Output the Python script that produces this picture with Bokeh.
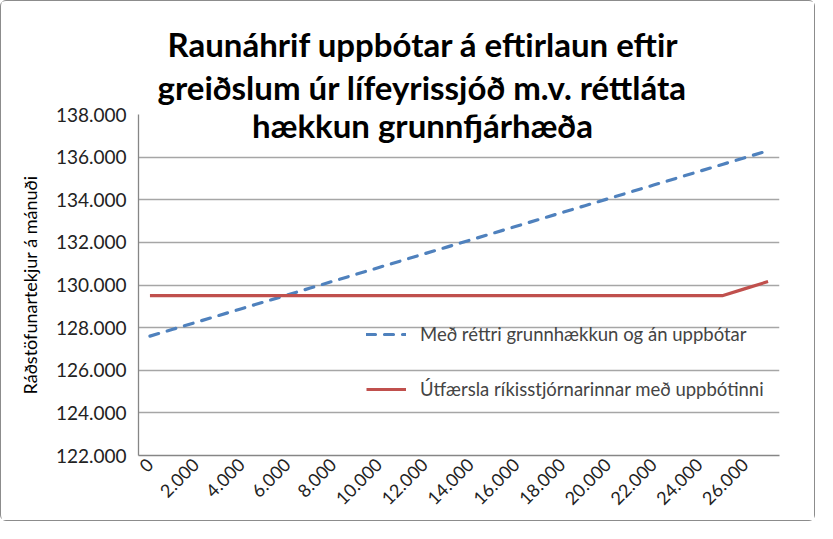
from bokeh.plotting import figure
from bokeh.models import FixedTicker, Label, Legend, LegendItem, Range1d, Title
from bokeh.embed import file_html
from bokeh.resources import INLINE

title_lines = ["Raunáhrif uppbótar á eftirlaun eftir",
               "greiðslum úr lífeyrissjóð m.v. réttláta",
               "hækkun grunnfjárhæða"]
y_axis_label = "Ráðstöfunartekjur á mánuði"
series_names = ["Með réttri grunnhækkun og án uppbótar",
                "Útfærsla ríkisstjórnarinnar með uppbótinni"]

x_values = [0, 1000, 2000, 3000, 4000, 5000, 6000, 7000, 8000, 9000,
            10000, 11000, 12000, 13000, 14000, 15000, 16000, 17000, 18000, 19000,
            20000, 21000, 22000, 23000, 24000, 25000, 26000, 27000]
blue_values = [127600, 127922, 128244, 128567, 128889, 129211, 129533, 129856, 130178, 130500,
               130822, 131144, 131467, 131789, 132111, 132433, 132756, 133078, 133400, 133722,
               134044, 134367, 134689, 135011, 135333, 135656, 135978, 136300]
red_values = [129500, 129500, 129500, 129500, 129500, 129500, 129500, 129500, 129500, 129500,
              129500, 129500, 129500, 129500, 129500, 129500, 129500, 129500, 129500, 129500,
              129500, 129500, 129500, 129500, 129500, 129500, 129830, 130160]

x_ticks = [0, 2000, 4000, 6000, 8000, 10000, 12000, 14000, 16000, 18000, 20000, 22000, 24000, 26000]
x_tick_labels = ["0", "2.000", "4.000", "6.000", "8.000", "10.000", "12.000", "14.000",
                 "16.000", "18.000", "20.000", "22.000", "24.000", "26.000"]
y_ticks = [122000, 124000, 126000, 128000, 130000, 132000, 134000, 136000, 138000]
y_tick_labels = ["122.000", "124.000", "126.000", "128.000", "130.000", "132.000",
                 "134.000", "136.000", "138.000"]

FONT = "Lato"
GRID = "#a6a6a6"
AXIS = "#868686"

p = figure(width=815, height=521, output_backend="svg", toolbar_location=None,
           x_range=Range1d(-500, 27500), y_range=Range1d(122000, 138000),
           min_border_left=137, min_border_right=37, min_border_top=113, min_border_bottom=67,
           styles={"border": "1px solid #8c8c8c", "border-radius": "6px"})
p.outline_line_color = None
p.background_fill_color = "white"
p.border_fill_color = "white"

p.xgrid.grid_line_color = None
p.ygrid.grid_line_color = GRID
p.ygrid.grid_line_width = 1.3
p.ygrid.ticker = FixedTicker(ticks=y_ticks)

p.xaxis.ticker = FixedTicker(ticks=x_ticks)
p.xaxis.major_label_overrides = dict(zip(x_ticks, x_tick_labels))
p.xaxis.major_label_orientation = 0.785398
p.yaxis.ticker = FixedTicker(ticks=y_ticks)
p.yaxis.major_label_overrides = dict(zip(y_ticks, y_tick_labels))

for ax in (p.xaxis, p.yaxis):
    ax.axis_line_color = AXIS
    ax.axis_line_width = 1.3
    ax.major_tick_line_color = None
    ax.minor_tick_line_color = None
    ax.major_tick_out = 0
    ax.major_tick_in = 0
    ax.major_label_text_font = FONT
    ax.major_label_text_color = "#222222"
p.yaxis.major_label_text_font_size = "19px"
p.xaxis.major_label_text_font_size = "18px"
p.yaxis.major_label_standoff = 12
p.xaxis.major_label_standoff = 6

p.yaxis.axis_label = y_axis_label
p.yaxis.axis_label_text_font = FONT
p.yaxis.axis_label_text_font_size = "18px"
p.yaxis.axis_label_text_font_style = "normal"
p.yaxis.axis_label_text_color = "#000000"
p.yaxis.axis_label_standoff = 12

r_blue = p.line(x_values, blue_values, line_color="#4F81BD", line_width=3.2,
                line_dash="9 9", line_cap="round")
r_red = p.line(x_values, red_values, line_color="#C0504D", line_width=3.2)

legend = Legend(items=[LegendItem(label=series_names[0], renderers=[r_blue]),
                       LegendItem(label=series_names[1], renderers=[r_red])],
                location=(228, 55), orientation="vertical",
                background_fill_alpha=0, border_line_color=None,
                label_text_font=FONT, label_text_font_size="18.5px",
                glyph_width=40, glyph_height=20, label_height=20,
                label_standoff=14, spacing=33, padding=0, margin=0)
p.add_layout(legend, "center")

title2 = Title(text=title_lines[1], align="left", offset=19, vertical_align="top",
               text_font=FONT, text_font_size="33px", text_font_style="bold",
               text_color="#000000", standoff=11)
title1 = Title(text=title_lines[0], align="left", offset=29,
               text_font=FONT, text_font_size="33px", text_font_style="bold",
               text_color="#000000", standoff=-4)
p.add_layout(title2, "above")
p.add_layout(title1, "above")

p.add_layout(Label(x=284, y=331, x_units="screen", y_units="screen", text=title_lines[2],
                   text_align="center", text_baseline="middle",
                   text_font=FONT, text_font_size="33px", text_font_style="bold",
                   text_color="#000000"))

open("out.html", "w").write(file_html(p, INLINE))
